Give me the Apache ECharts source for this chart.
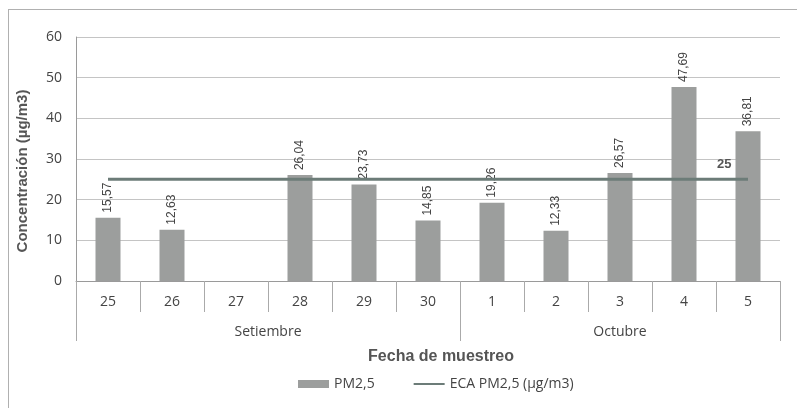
<!DOCTYPE html>
<html>
<head>
<meta charset="utf-8">
<script src="https://cdn.jsdelivr.net/npm/echarts@6/dist/echarts.min.js"></script>
<style>
  html, body { margin: 0; padding: 0; background: #fff; }
  #wrap { position: relative; width: 797px; height: 408px; overflow: hidden; }
  #frame { position: absolute; left: 8px; top: 9px; width: 900px; height: 500px; border: 1px solid #b0b0b0; }
  #chart { position: absolute; left: 0; top: 0; width: 797px; height: 408px; }
</style>
</head>
<body>
<div id="wrap">
  <div id="frame"></div>
  <div id="chart"></div>
</div>
<script>
// dias de muestreo (set-oct)
const days = ['25', '26', '27', '28', '29', '30', '1', '2', '3', '4', '5'];
const months = ['Setiembre', 'Octubre'];
const monthSpans = [6, 5]; // nro de dias por mes
const pm25 = [15.57, 12.63, null, 26.04, 23.73, 14.85, 19.26, 12.33, 26.57, 47.69, 36.81];
const ecaValue = 25;

const barColor = '#9c9e9d';
const lineColor = '#6c7c78';
const textColor = '#444';

// centro de cada mes en unidades de categoria
let monthCenters = {};
let acc = 0;
monthSpans.forEach(function (span, i) {
    monthCenters[acc + span / 2] = months[i];
    acc += span;
});

const ecaData = days.map(function () { return ecaValue; });

const chart = echarts.init(document.getElementById('chart'));
chart.setOption({
    animation: false,
    textStyle: { fontFamily: 'Liberation Sans, Arial, sans-serif' },
    grid: { left: 76, right: 17, top: 37, bottom: 127 },
    legend: {
        left: 293,
        top: 372,
        itemGap: 38,
        textStyle: { color: textColor, fontSize: 14, fontFamily: 'Open Sans, sans-serif' },
        data: [
            { name: 'PM2,5', icon: 'rect', itemStyle: { color: barColor } },
            { name: 'ECA PM2,5 (µg/m3)', itemStyle: { opacity: 0 } }
        ],
        itemWidth: 31,
        itemHeight: 8
    },
    xAxis: [{
        type: 'category',
        data: days,
        axisLine: { lineStyle: { color: '#9a9a9a' } },
        axisTick: { show: true, length: 31, lineStyle: { color: '#aaa' } },
        axisLabel: { margin: 14, fontSize: 14, color: textColor, fontFamily: 'Open Sans, sans-serif' },
        name: 'Fecha de muestreo',
        nameLocation: 'middle',
        nameGap: 68,
        nameTextStyle: { fontWeight: 'bold', fontSize: 16, color: '#555', padding: [0, 0, 0, 26] }
    }, {
        type: 'value',
        position: 'bottom',
        min: 0,
        max: 11,
        interval: 0.5,
        axisLine: { show: false },
        axisTick: { show: false },
        splitLine: { show: false },
        axisLabel: {
            margin: 44,
            fontSize: 14,
            color: textColor,
            fontFamily: 'Open Sans, sans-serif',
            formatter: function (v) { return monthCenters[v] || ''; }
        }
    }, {
        type: 'category',
        position: 'bottom',
        data: days,
        axisLine: { show: false },
        axisLabel: { show: false },
        axisTick: {
            show: true,
            length: 60,
            lineStyle: { color: '#aaa' },
            interval: function (i) { return i === 0 || i === monthSpans[0]; }
        }
    }],
    yAxis: {
        type: 'value',
        min: 0,
        max: 60,
        interval: 10,
        axisLine: { show: true, lineStyle: { color: '#9a9a9a' } },
        axisTick: { show: false },
        splitLine: { lineStyle: { color: '#c4c4c4' } },
        axisLabel: { margin: 14, fontSize: 14, color: textColor, fontFamily: 'Open Sans, sans-serif' },
        name: 'Concentración (µg/m3)',
        nameLocation: 'middle',
        nameGap: 46,
        nameTextStyle: { fontWeight: 'bold', fontSize: 15, color: '#555', padding: [0, 24, 0, 0] }
    },
    series: [{
        name: 'PM2,5',
        type: 'bar',
        xAxisIndex: 0,
        data: pm25,
        barWidth: 25,
        itemStyle: { color: barColor },
        label: {
            show: true,
            position: 'top',
            rotate: 90,
            align: 'left',
            verticalAlign: 'middle',
            distance: 5,
            fontSize: 12,
            color: textColor,
            formatter: function (p) {
                return p.value == null ? '' : p.value.toFixed(2).replace('.', ',');
            }
        }
    }, {
        name: 'ECA PM2,5 (µg/m3)',
        type: 'line',
        xAxisIndex: 0,
        data: ecaData,
        symbol: 'none',
        itemStyle: { color: lineColor },
        lineStyle: { color: lineColor, width: 3 },
        endLabel: {
            show: true,
            formatter: String(ecaValue),
            offset: [-39, -15],
            fontWeight: 'bold',
            fontSize: 13,
            color: '#555'
        },
        z: 3
    }]
});
</script>
</body>
</html>
